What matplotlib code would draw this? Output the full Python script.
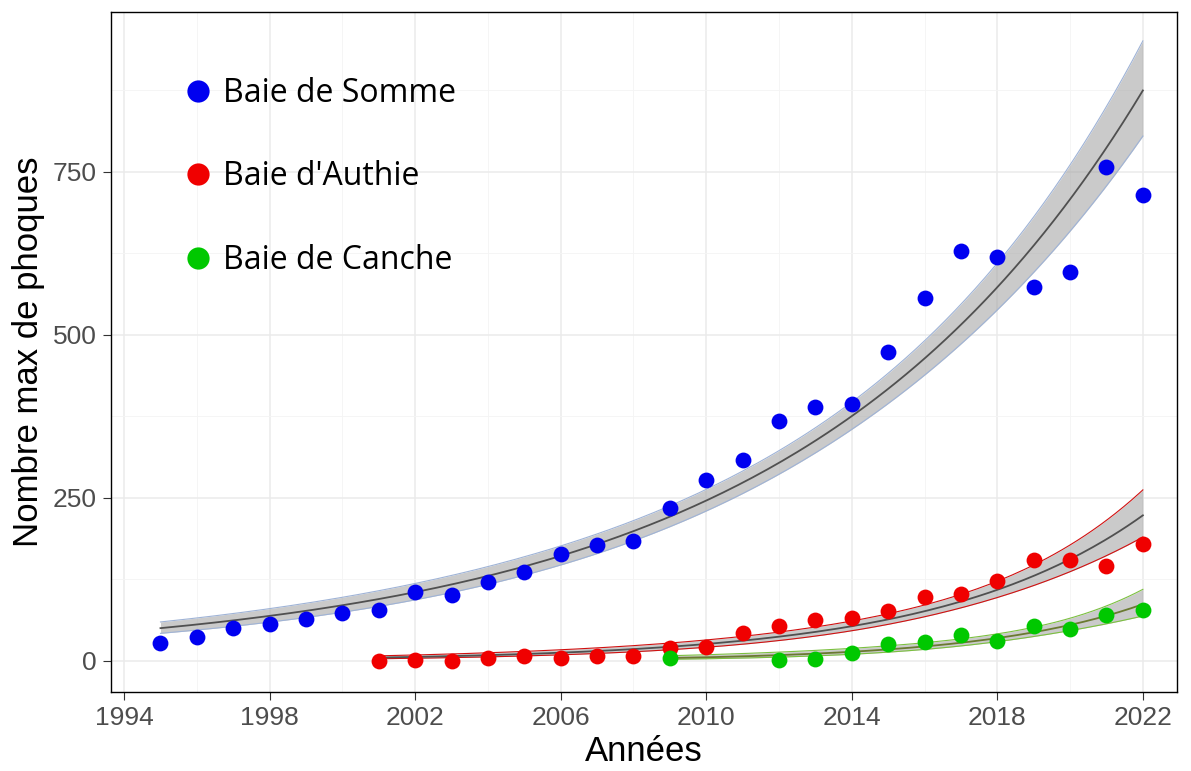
import numpy as np
import matplotlib
matplotlib.use("Agg")
import matplotlib.pyplot as plt
from matplotlib.lines import Line2D

# ---- data ----
years_somme = list(range(1995, 2023))
somme = [28, 37, 50, 57, 64, 73, 78, 106, 101, 121, 136, 164, 178, 184,
         234, 277, 308, 368, 390, 394, 473, 556, 628, 620, 574, 596, 757, 715]

years_authie = list(range(2001, 2023))
authie = [0, 2, 0, 5, 8, 5, 8, 7, 20, 22, 43, 53, 63, 66, 77, 98, 102, 122,
          155, 155, 146, 179]

years_canche = [2009, 2012, 2013, 2014, 2015, 2016, 2017, 2018, 2019, 2020, 2021, 2022]
canche = [5, 2, 3, 12, 26, 29, 40, 31, 53, 49, 70, 78]

labels = ["Baie de Somme", "Baie d'Authie", "Baie de Canche"]
colors = ["#0000F0", "#F00000", "#00C800"]
x_ticks = [1994, 1998, 2002, 2006, 2010, 2014, 2018, 2022]
y_ticks = [0, 250, 500, 750]


def quasi_poisson_smooth(x, y, n=200):
    x = np.asarray(x, float)
    y = np.asarray(y, float)
    xc = x.mean()
    X = np.column_stack([np.ones_like(x), x - xc])
    beta = np.array([np.log(y.mean() + 0.5), 0.0])
    for _ in range(100):
        eta = X @ beta
        mu = np.exp(eta)
        z = eta + (y - mu) / mu
        XtW = X.T * mu
        beta = np.linalg.solve(XtW @ X, XtW @ z)
    mu = np.exp(X @ beta)
    phi = np.sum((y - mu) ** 2 / mu) / (len(y) - 2)
    cov = phi * np.linalg.inv((X.T * mu) @ X)
    xg = np.linspace(x.min(), x.max(), n)
    Xg = np.column_stack([np.ones_like(xg), xg - xc])
    eta_g = Xg @ beta
    se = np.sqrt(np.einsum("ij,jk,ik->i", Xg, cov, Xg))
    return xg, np.exp(eta_g), np.exp(eta_g - 1.96 * se), np.exp(eta_g + 1.96 * se)


fig = plt.figure(figsize=(11.91, 7.71), dpi=100)
ax = fig.add_axes([0.0932, 0.1025, 0.8948, 0.8819])

ax.set_xlim(1993.64, 2022.93)
ax.set_ylim(-47.5, 995)
ax.set_xticks(x_ticks)
ax.set_yticks(y_ticks)
ax.set_xticks([1996, 2000, 2004, 2008, 2012, 2016, 2020], minor=True)
ax.set_yticks([125, 375, 625, 875], minor=True)
ax.grid(True, which="major", color="#EBEBEB", lw=1.1)
ax.grid(True, which="minor", color="#F4F4F4", lw=0.6)
ax.set_axisbelow(True)

series = [(years_somme, somme), (years_authie, authie), (years_canche, canche)]
edge_cols = ["#9fb3d6", "#D01010", "#7CC040"]
line_cols = ["#505050", "#505050", "#6a7a30"]
for (xs, ys), c, ec, lc in zip(series, colors, edge_cols, line_cols):
    xg, fit, lo, hi = quasi_poisson_smooth(xs, ys)
    ax.fill_between(xg, lo, hi, color="#A0A0A0", alpha=0.55, lw=0, zorder=2)
    ax.plot(xg, lo, color=ec, lw=0.8, zorder=2.5)
    ax.plot(xg, hi, color=ec, lw=0.8, zorder=2.5)
    ax.plot(xg, fit, color=lc, lw=1.3, zorder=3)

for (xs, ys), c in zip(series, colors):
    ax.scatter(xs, ys, s=130, color=c, zorder=4, linewidths=0)

for sp in ax.spines.values():
    sp.set_color("black")
    sp.set_linewidth(1.0)

ax.tick_params(axis="both", which="major", length=6, color="#333333",
               labelcolor="#4D4D4D", labelsize=19, pad=4)
ax.tick_params(axis="both", which="minor", length=0)
for lab in ax.get_xticklabels() + ax.get_yticklabels():
    lab.set_family("Liberation Sans")

ax.set_xlabel("Années", fontsize=25, family="Liberation Sans", labelpad=4)
ax.set_ylabel("Nombre max de phoques", fontsize=25, family="Liberation Sans", labelpad=6)

handles = [Line2D([], [], marker="o", linestyle="none", markersize=16,
                  markerfacecolor=c, markeredgewidth=0) for c in colors]
leg = ax.legend(handles, labels, loc="upper left", bbox_to_anchor=(0.04, 0.947),
                frameon=False, labelspacing=1.58, handletextpad=0.27,
                handlelength=1.0, prop={"family": "Open Sans", "size": 23})

fig.savefig("out.png", dpi=100)
